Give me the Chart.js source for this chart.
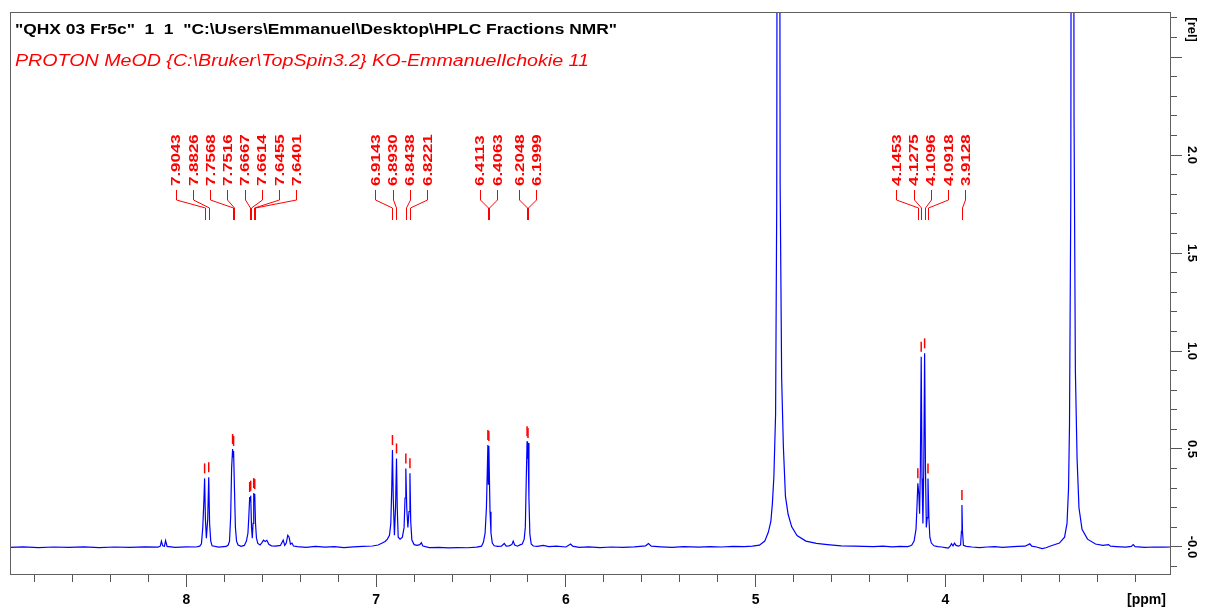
<!DOCTYPE html>
<html>
<head>
<meta charset="utf-8">
<script src="https://cdn.jsdelivr.net/npm/chart.js@4"></script>
<style>
  html, body { margin: 0; padding: 0; background: #fff; }
  canvas { display: block; }
</style>
</head>
<body>
<canvas id="chart" width="1205" height="610"></canvas>
<script>
const titleLine = '"QHX 03 Fr5c"  1  1  "C:\\Users\\Emmanuel\\Desktop\\HPLC Fractions NMR"'
const subtitleLine = 'PROTON MeOD {C:\\Bruker\\TopSpin3.2} KO-EmmanuelIchokie 11'

// spectrum trace as [ppm, rel] pairs
const traceAromatic = [
  [8.93, -0.002], [8.86, 0.001], [8.78, -0.003], [8.70, 0.000], [8.62, -0.002], [8.54, 0.001], [8.46, -0.003], [8.38, 0.000], [8.30, -0.002], [8.22, 0.001], [8.15, -0.001],
  [8.138, 0.004], [8.132, 0.030], [8.125, 0.006], [8.116, 0.004], [8.110, 0.032], [8.102, 0.003],
  [8.06, -0.002], [8.00, 0.001], [7.95, 0.000], [7.930, 0.004], [7.921, 0.016], [7.914, 0.100], [7.908, 0.240], [7.9043, 0.350], [7.900, 0.140], [7.895, 0.045], [7.888, 0.140], [7.8826, 0.356], [7.878, 0.120], [7.872, 0.030], [7.865, 0.006],
  [7.83, -0.001], [7.79, 0.003], [7.780, 0.010], [7.773, 0.030], [7.767, 0.155], [7.762, 0.400], [7.7568, 0.500], [7.7542, 0.460], [7.7516, 0.490], [7.747, 0.300], [7.742, 0.100], [7.736, 0.030], [7.728, 0.010], [7.712, 0.003],
  [7.695, 0.008], [7.684, 0.030], [7.676, 0.070], [7.671, 0.160], [7.6667, 0.255], [7.6640, 0.235], [7.6614, 0.262], [7.657, 0.100], [7.653, 0.045], [7.649, 0.120], [7.6455, 0.275], [7.6428, 0.250], [7.6401, 0.270], [7.636, 0.120], [7.631, 0.045], [7.624, 0.018],
  [7.612, 0.010], [7.602, 0.022], [7.594, 0.035], [7.585, 0.028], [7.576, 0.034], [7.566, 0.014], [7.552, 0.006], [7.530, 0.004], [7.505, 0.008], [7.490, 0.035], [7.482, 0.008], [7.474, 0.020], [7.466, 0.060], [7.459, 0.050], [7.452, 0.014], [7.444, 0.020], [7.436, 0.005], [7.415, 0.002]
]
const traceOlefinic = [
  [7.37, -0.002], [7.32, 0.003], [7.27, -0.001], [7.22, 0.002], [7.17, -0.003], [7.12, 0.001], [7.07, 0.003], [7.02, 0.005],
  [6.990, 0.010], [6.968, 0.020], [6.953, 0.028], [6.941, 0.040], [6.930, 0.060], [6.923, 0.120], [6.918, 0.300], [6.9143, 0.495], [6.910, 0.250], [6.904, 0.060], [6.898, 0.200], [6.8930, 0.452], [6.889, 0.200], [6.884, 0.050],
  [6.874, 0.040], [6.862, 0.050], [6.853, 0.100], [6.848, 0.250], [6.8438, 0.400], [6.839, 0.200], [6.833, 0.100], [6.827, 0.180], [6.8221, 0.376], [6.818, 0.130], [6.812, 0.035], [6.800, 0.012], [6.785, 0.008], [6.770, 0.012], [6.762, 0.022], [6.754, 0.005],
  [6.72, -0.003], [6.67, -0.002], [6.62, -0.005], [6.57, -0.003], [6.52, -0.004], [6.47, -0.001],
  [6.445, 0.004], [6.435, 0.024], [6.426, 0.070], [6.419, 0.200], [6.4113, 0.520], [6.4088, 0.320], [6.4063, 0.515], [6.400, 0.180], [6.395, 0.070], [6.388, 0.020], [6.378, 0.006],
  [6.360, 0.003], [6.340, 0.004], [6.325, 0.018], [6.315, 0.004], [6.300, 0.006], [6.285, 0.012], [6.278, 0.030], [6.270, 0.010], [6.255, 0.004], [6.240, 0.012],
  [6.230, 0.015], [6.220, 0.040], [6.214, 0.100], [6.209, 0.350], [6.2048, 0.540], [6.2024, 0.450], [6.1999, 0.530], [6.195, 0.250], [6.190, 0.065], [6.183, 0.015], [6.172, 0.005]
]
const traceWater = [
  [6.15, 0.003], [6.12, 0.008], [6.09, 0.002], [6.05, 0.004], [6.00, 0.000], [5.975, 0.015], [5.965, 0.004], [5.93, -0.002], [5.88, 0.001], [5.82, -0.003], [5.76, 0.000], [5.70, -0.002],
  [5.64, 0.001], [5.58, 0.006], [5.565, 0.018], [5.55, 0.004], [5.50, 0.001], [5.44, -0.002], [5.38, 0.002], [5.30, -0.001], [5.24, 0.002], [5.18, 0.000], [5.12, 0.003], [5.06, 0.002],
  [5.017, 0.004], [4.980, 0.009], [4.952, 0.030], [4.933, 0.076], [4.920, 0.130], [4.912, 0.220], [4.904, 0.358], [4.895, 0.677], [4.889, 1.750], [4.8805, 9.0],
  [4.871, 1.850], [4.863, 0.860], [4.854, 0.513], [4.843, 0.258], [4.829, 0.167], [4.810, 0.103], [4.782, 0.058], [4.735, 0.030], [4.680, 0.018], [4.622, 0.012], [4.550, 0.006], [4.480, 0.004], [4.430, 0.003]
]
const traceOxy = [
  [4.38, 0.002], [4.33, 0.004], [4.28, 0.001], [4.24, 0.003], [4.20, 0.002],
  [4.190, 0.004], [4.177, 0.010], [4.165, 0.030], [4.155, 0.090], [4.150, 0.200], [4.1453, 0.325], [4.140, 0.270], [4.136, 0.170], [4.132, 0.400], [4.1275, 0.971], [4.1232, 0.350], [4.1185, 0.120],
  [4.114, 0.400], [4.1096, 0.988], [4.105, 0.400], [4.1005, 0.100], [4.096, 0.150], [4.0918, 0.350], [4.087, 0.150], [4.082, 0.050], [4.074, 0.020], [4.060, 0.006], [4.040, 0.002],
  [4.020, 0.000], [4.000, -0.003], [3.985, -0.006], [3.975, 0.004], [3.968, 0.017], [3.960, 0.006], [3.952, 0.020], [3.944, 0.008], [3.930, 0.004], [3.920, 0.010],
  [3.9155, 0.080], [3.9128, 0.214], [3.910, 0.080], [3.905, 0.008], [3.890, 0.003], [3.860, 0.000], [3.820, -0.003],
  [3.78, 0.000], [3.74, 0.002], [3.70, -0.002], [3.66, 0.001], [3.62, 0.003], [3.58, 0.004], [3.555, 0.016], [3.545, 0.004], [3.52, 0.000], [3.49, -0.008], [3.47, -0.004]
]
const traceMethanol = [
  [3.446, 0.005], [3.399, 0.020], [3.372, 0.050], [3.359, 0.120], [3.351, 0.300], [3.346, 0.620], [3.339, 1.800], [3.331, 9.0],
  [3.322, 2.200], [3.315, 0.900], [3.306, 0.450], [3.296, 0.200], [3.280, 0.090], [3.251, 0.040], [3.209, 0.015], [3.170, 0.008], [3.140, 0.012], [3.130, 0.004],
  [3.10, 0.002], [3.05, -0.001], [3.02, 0.003], [3.01, 0.012], [3.00, 0.002], [2.95, -0.002], [2.90, 0.000], [2.85, -0.001], [2.81, 0.000]
]

// picked peaks and their heights
const peakShifts = [7.9043, 7.8826, 7.7568, 7.7516, 7.6667, 7.6614, 7.6455, 7.6401, 6.9143, 6.8930, 6.8438, 6.8221, 6.4113, 6.4063, 6.2048, 6.1999, 4.1453, 4.1275, 4.1096, 4.0918, 3.9128]
const peakHeights = [0.350, 0.356, 0.500, 0.490, 0.255, 0.262, 0.275, 0.270, 0.495, 0.452, 0.400, 0.376, 0.520, 0.515, 0.540, 0.530, 0.325, 0.971, 0.988, 0.350, 0.214]

const xTicks = [8.8, 8.6, 8.4, 8.2, 8, 7.8, 7.6, 7.4, 7.2, 7, 6.8, 6.6, 6.4, 6.2, 6, 5.8, 5.6, 5.4, 5.2, 5, 4.8, 4.6, 4.4, 4.2, 4, 3.8, 3.6, 3.4, 3.2, 3]
const xLabelled = [8, 7, 6, 5, 4]
const xTickText = ['8', '7', '6', '5', '4']
const xUnitAt = 2.94
const xUnitText = '[ppm]'

const yTicks = [-0.1, 0, 0.1, 0.2, 0.3, 0.4, 0.5, 0.6, 0.7, 0.8, 0.9, 1, 1.1, 1.2, 1.3, 1.4, 1.5, 1.6, 1.7, 1.8, 1.9, 2, 2.1, 2.2, 2.3, 2.4, 2.5, 2.6, 2.7]
const yMajor = [0, 0.5, 1, 1.5, 2, 2.5]
const yLabelled = [0, 0.5, 1, 1.5, 2]
const yTickText = ['-0.0', '0.5', '1.0', '1.5', '2.0']
const yUnitAt = 2.64
const yUnitText = '[rel]'

const spectrum = [...traceAromatic, ...traceOlefinic, ...traceWater, ...traceOxy, ...traceMethanol].map(([x, y]) => ({ x, y }))

const FONT = '"Liberation Sans", Arial, sans-serif'
const axisGrey = '#555'
const near = (a, b) => Math.abs(a - b) < 1e-6

function fitText(ctx, text, x, y, width) {
  const k = width / ctx.measureText(text).width
  ctx.save()
  ctx.translate(x, y)
  ctx.scale(k, 1)
  ctx.fillText(text, 0, 0)
  ctx.restore()
}

// push labels apart, each cluster centred on the mean of its peaks
function spreadLabels(xs, gap) {
  let groups = xs.map(x => ({ sum: x, n: 1 }))
  let merged = true
  while (merged) {
    merged = false
    for (let i = 0; i < groups.length - 1; i++) {
      const a = groups[i], b = groups[i + 1]
      const aEnd = a.sum / a.n + (a.n - 1) * gap / 2
      const bStart = b.sum / b.n - (b.n - 1) * gap / 2
      if (bStart - aEnd < gap) {
        groups.splice(i, 2, { sum: a.sum + b.sum, n: a.n + b.n })
        merged = true
        break
      }
    }
  }
  const out = []
  groups.forEach(g => {
    const start = g.sum / g.n - (g.n - 1) * gap / 2
    for (let k = 0; k < g.n; k++) out.push(start + k * gap)
  })
  return out
}

const annotations = {
  id: 'annotations',
  afterDraw(chart) {
    const { ctx, chartArea: area, scales: { x, y } } = chart
    ctx.save()

    ctx.strokeStyle = '#606060'
    ctx.lineWidth = 1
    ctx.strokeRect(area.left + 0.5, area.top + 0.5, area.right - area.left - 1, area.bottom - area.top - 1)

    ctx.textBaseline = 'alphabetic'
    ctx.textAlign = 'left'
    ctx.fillStyle = '#000'
    ctx.font = 'bold 15px ' + FONT
    fitText(ctx, titleLine, 15, 33.5, 602)
    ctx.fillStyle = '#ff0000'
    ctx.font = 'italic 16px ' + FONT
    fitText(ctx, subtitleLine, 15, 66, 574)

    const px = peakShifts.map(p => x.getPixelForValue(p))
    const lx = spreadLabels(px, 17.2)
    ctx.strokeStyle = '#ff0000'
    ctx.font = 'bold 13px ' + FONT
    peakShifts.forEach((p, i) => {
      const a = Math.round(lx[i]) + 0.5
      const b = Math.round(px[i]) + 0.5
      ctx.lineWidth = 1
      ctx.beginPath()
      ctx.moveTo(a, 190)
      ctx.lineTo(a, 200)
      ctx.lineTo(b, 208)
      ctx.lineTo(b, 220)
      ctx.stroke()

      ctx.save()
      ctx.translate(lx[i], 186)
      ctx.rotate(-Math.PI / 2)
      ctx.scale(1.3, 1)
      ctx.fillText(p.toFixed(4), 0, 4.6)
      ctx.restore()

      const top = y.getPixelForValue(peakHeights[i])
      ctx.lineWidth = 1.5
      ctx.beginPath()
      ctx.moveTo(px[i], top - 15)
      ctx.lineTo(px[i], top - 5)
      ctx.stroke()
    })
    ctx.restore()
  }
}

new Chart(document.getElementById('chart'), {
  type: 'line',
  data: {
    datasets: [{
      data: spectrum,
      borderColor: '#0000ff',
      borderWidth: 1.2,
      pointRadius: 0,
      tension: 0,
      fill: false
    }]
  },
  options: {
    responsive: false,
    animation: false,
    events: [],
    layout: { padding: { left: 10, top: 12, right: 0, bottom: 0 } },
    plugins: { legend: { display: false }, tooltip: { enabled: false } },
    scales: {
      x: {
        type: 'linear',
        reverse: true,
        min: 2.811,
        max: 8.930,
        afterBuildTicks: s => { s.ticks = xTicks.concat([xUnitAt]).map(v => ({ value: v })) },
        afterFit: s => { s.height = 35 },
        border: { display: false },
        grid: {
          drawOnChartArea: false,
          tickLength: 12,
          tickColor: c => (c.tick && near(c.tick.value, xUnitAt)) ? 'rgba(0,0,0,0)' : axisGrey,
          tickBorderDash: c => (c.tick && xLabelled.some(v => near(v, c.tick.value))) ? [] : [7, 100]
        },
        ticks: {
          autoSkip: false,
          maxRotation: 0,
          minRotation: 0,
          padding: 5,
          color: '#000',
          font: { family: FONT, size: 14, weight: 'bold' },
          callback: v => {
            if (near(v, xUnitAt)) return xUnitText
            const i = xLabelled.findIndex(t => near(t, v))
            return i < 0 ? '' : xTickText[i]
          }
        }
      },
      y: {
        type: 'linear',
        position: 'right',
        min: -0.143,
        max: 2.73,
        afterBuildTicks: s => { s.ticks = yTicks.concat([yUnitAt]).map(v => ({ value: v })) },
        afterFit: s => { s.width = 34 },
        border: { display: false },
        grid: {
          drawOnChartArea: false,
          tickLength: 11,
          tickColor: c => (c.tick && near(c.tick.value, yUnitAt)) ? 'rgba(0,0,0,0)' : axisGrey,
          tickBorderDash: c => (c.tick && yMajor.some(v => near(v, c.tick.value))) ? [] : [6, 100]
        },
        ticks: {
          autoSkip: false,
          minRotation: -90,
          maxRotation: -90,
          crossAlign: 'center',
          padding: -3,
          color: '#000',
          font: { family: FONT, size: 13, weight: 'bold' },
          callback: v => {
            if (near(v, yUnitAt)) return yUnitText
            const i = yLabelled.findIndex(t => near(t, v))
            return i < 0 ? '' : yTickText[i]
          }
        }
      }
    }
  },
  plugins: [annotations]
})
</script>
</body>
</html>
